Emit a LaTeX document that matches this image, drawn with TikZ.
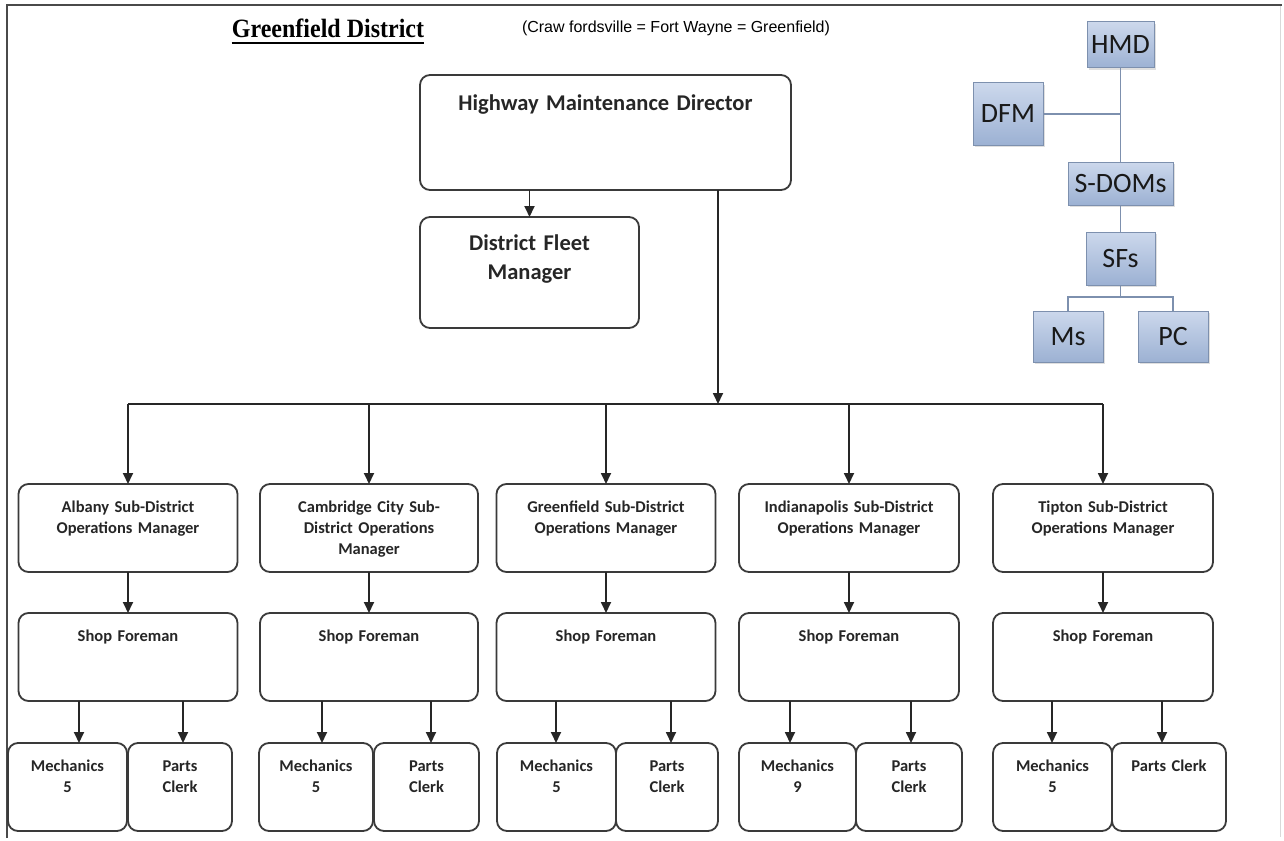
\documentclass[tikz,border=0pt]{standalone}
\usepackage{fontspec}
\setmainfont{Carlito}
\newfontfamily\headfont{Liberation Serif}
\newfontfamily\notefont{Liberation Sans}
\usetikzlibrary{positioning,arrows.meta,calc,shadows}
\definecolor{boxline}{HTML}{3A3A3A}
\definecolor{legline}{HTML}{7D90AE}
\definecolor{legtop}{HTML}{CCD8EC}
\definecolor{legbot}{HTML}{9CB1D3}
\definecolor{framegray}{HTML}{4A4A4A}
\tikzset{
  blk/.style={draw=boxline, line width=1.8pt, rounded corners=10pt, fill=white,
              align=center, inner sep=0pt, outer sep=0pt, text=black!85,
              font=\bfseries\fontsize{16.5}{21}\selectfont,
              text width=#1, text height=28pt, text depth=60pt},
  blk/.default=219pt,
  bigblk/.style={blk=#1, font=\bfseries\fontsize{22.5}{29}\selectfont},
  leg/.style={draw=legline, line width=1pt, top color=legtop, bottom color=legbot,
              drop shadow={opacity=0.25, shadow xshift=2pt, shadow yshift=-2pt},
              inner sep=0pt, outer sep=0pt, text=black!90,
              font=\fontsize{28}{30}\selectfont},
  flow/.style={-{Triangle[length=11pt, width=10pt]}, line width=1.8pt, draw=black!85},
  link/.style={draw=legline, line width=1.6pt},
}
\begin{document}
\begin{tikzpicture}[x=1pt, y=-1pt]
  \useasboundingbox (0,0) rectangle (1284,840);
  % page frame
  \draw[black!15, line width=1pt] (1280,5) -- (1280,837);
  \draw[framegray, line width=2.5pt] (7,838) -- (7,5) -- (1282,5);

  % heading
  \node[inner sep=0pt, font=\headfont\bfseries\fontsize{24}{28}\selectfont, yscale=1.1] (ttl) at (328,28) {Greenfield District};
  \draw[line width=2.5pt] ([yshift=-6pt]ttl.base west) -- ([yshift=-6pt]ttl.base east);
  \node[inner sep=0pt, font=\notefont\fontsize{16}{19}\selectfont] (note) at (676,28)
    {(Craw fordsville = Fort Wayne = Greenfield)};

  % director and fleet manager
  \node[bigblk=371pt, text height=36pt, text depth=79pt] (hmd) at (605.5,132.5)
    {Highway Maintenance Director};
  \node[bigblk=219pt, text height=33pt, text depth=78pt] (dfm) at (529.5,272.5)
    {District Fleet\\Manager};
  \draw[flow] (dfm.north |- hmd.south) -- (dfm.north);

  % sub-district managers
  \node[blk] (alb) at (128,528) {Albany Sub-District\\Operations Manager};
  \node[blk=218pt] (cam) at (369,528) {Cambridge City Sub-\\District Operations\\Manager};
  \node[blk] (grn) at (606,528) {Greenfield Sub-District\\Operations Manager};
  \node[blk=220pt] (ind) at (849,528) {Indianapolis Sub-District\\Operations Manager};
  \node[blk=220pt] (tip) at (1103,528) {Tipton Sub-District\\Operations Manager};

  \coordinate (bus) at (718,404);
  \draw[flow] (hmd.south -| bus) -- (bus);
  \draw[line width=1.8pt, black!85] (alb.north |- bus) -- (tip.north |- bus);
  \draw[flow] (alb.north |- bus) -- (alb.north);
  \draw[flow] (cam.north |- bus) -- (cam.north);
  \draw[flow] (grn.north |- bus) -- (grn.north);
  \draw[flow] (ind.north |- bus) -- (ind.north);
  \draw[flow] (tip.north |- bus) -- (tip.north);

  % shop foremen
  \node[blk, below=41pt of alb] (albshop) {Shop Foreman};
  \node[blk=218pt, below=41pt of cam] (camshop) {Shop Foreman};
  \node[blk, below=41pt of grn] (grnshop) {Shop Foreman};
  \node[blk=220pt, below=41pt of ind] (indshop) {Shop Foreman};
  \node[blk=220pt, below=41pt of tip] (tipshop) {Shop Foreman};
  \draw[flow] (alb) -- (albshop);
  \draw[flow] (cam) -- (camshop);
  \draw[flow] (grn) -- (grnshop);
  \draw[flow] (ind) -- (indshop);
  \draw[flow] (tip) -- (tipshop);

  % mechanics and parts clerks
  \node[blk=119pt] (albmech) at (67.5,787) {Mechanics\\5};
  \node[blk=104pt] (albpc) at (180,787) {Parts\\Clerk};
  \node[blk=114pt] (cammech) at (316,787) {Mechanics\\5};
  \node[blk=105pt] (campc) at (426.5,787) {Parts\\Clerk};
  \node[blk=119pt] (grnmech) at (556.5,787) {Mechanics\\5};
  \node[blk=102pt] (grnpc) at (667,787) {Parts\\Clerk};
  \node[blk=117pt] (indmech) at (797.5,787) {Mechanics\\9};
  \node[blk=106pt] (indpc) at (909,787) {Parts\\Clerk};
  \node[blk=119pt] (tipmech) at (1052.5,787) {Mechanics\\5};
  \node[blk=114pt] (tippc) at (1169,787) {Parts Clerk};
  \draw[flow] (79,0 |- albshop.south) -- (79,0 |- albmech.north);
  \draw[flow] (183,0 |- albshop.south) -- (183,0 |- albpc.north);
  \draw[flow] (322,0 |- camshop.south) -- (322,0 |- cammech.north);
  \draw[flow] (431,0 |- camshop.south) -- (431,0 |- campc.north);
  \draw[flow] (556,0 |- grnshop.south) -- (556,0 |- grnmech.north);
  \draw[flow] (671,0 |- grnshop.south) -- (671,0 |- grnpc.north);
  \draw[flow] (790,0 |- indshop.south) -- (790,0 |- indmech.north);
  \draw[flow] (911,0 |- indshop.south) -- (911,0 |- indpc.north);
  \draw[flow] (1052,0 |- tipshop.south) -- (1052,0 |- tipmech.north);
  \draw[flow] (1162,0 |- tipshop.south) -- (1162,0 |- tippc.north);

  % key
  \node[leg, minimum width=67pt, minimum height=46pt] (khmd) at (1120.5,45) {HMD};
  \node[leg, minimum width=70pt, minimum height=62pt] (kdfm) at (1008,114) {DFM};
  \node[leg, minimum width=105pt, minimum height=43pt] (ksdom) at (1120.5,183.5) {S-DOMs};
  \node[leg, minimum width=69pt, minimum height=53pt] (ksf) at (1120.5,258.5) {SFs};
  \node[leg, minimum width=70pt, minimum height=51pt] (kms) at (1068,336.5) {Ms};
  \node[leg, minimum width=70pt, minimum height=51pt] (kpc) at (1173,336.5) {PC};
  \draw[link] (khmd) -- (ksdom);
  \draw[link] (kdfm.east) -- (kdfm.east -| khmd.south);
  \draw[link] (ksdom) -- (ksf);
  \draw[link] (ksf.south) -- ++(0,12) -| (kms.north);
  \draw[link] (ksf.south) -- ++(0,12) -| (kpc.north);
\end{tikzpicture}
\end{document}
